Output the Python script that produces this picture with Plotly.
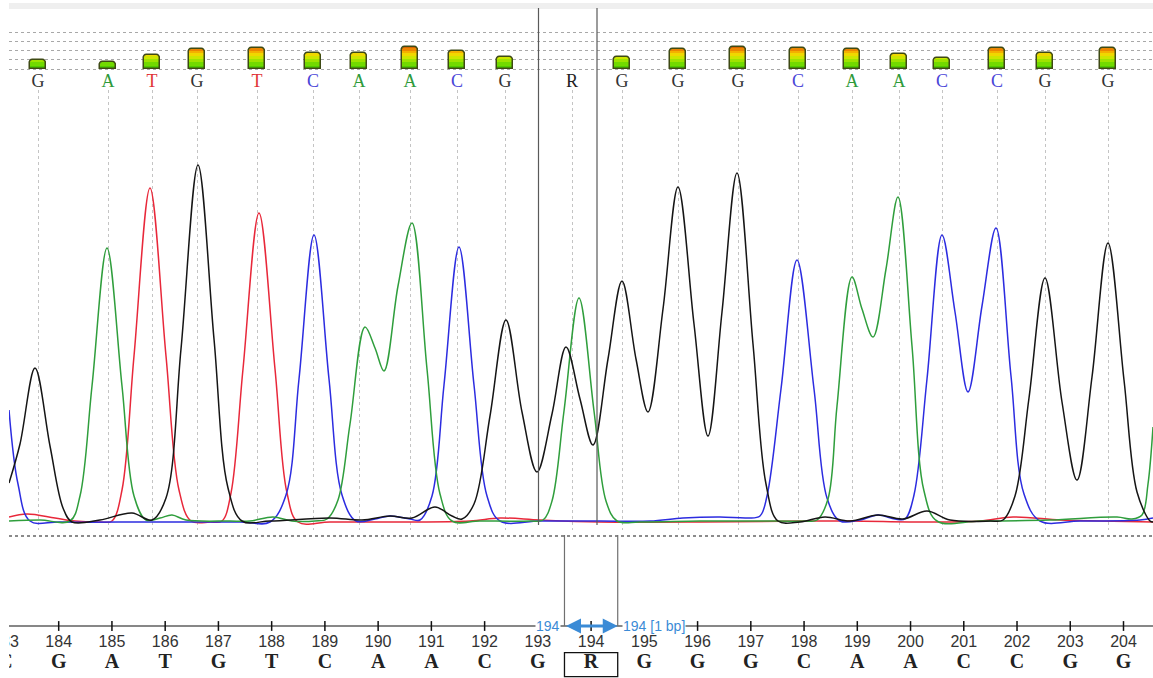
import plotly.graph_objects as go

# ---- base calls shown in the trace window ----
call_scan = [38, 108, 152, 197, 257, 313, 359, 410, 457, 505, 572,
             622, 678, 738, 798, 852, 899, 942, 997, 1045, 1108]
call_base = list("GATGTCAACGRGGGCAACCGG")
call_qv = [10, 8, 15, 22, 23, 18, 17, 24, 20, 13, 0,
           13, 22, 24, 23, 22, 16, 12, 23, 17, 23]

# ---- sequence ruler ----
ruler_pos = list(range(183, 205))
ruler_base = list("CGATGTCAACGRGGGCAACCGG")
selected_pos = 194

# ---- trace channels (scan, signal) ----
g_scan = [9, 20, 35, 50, 63, 72, 100, 132, 152, 166, 181, 198, 214, 228, 242, 270, 330,
          362, 390, 412, 435, 452, 462, 474, 490, 506, 522, 537, 552, 566, 580, 593, 608,
          622, 636, 648, 663, 678, 694, 708, 722, 737, 753, 766, 778, 800, 825, 850, 878,
          903, 927, 950, 990, 1003, 1015, 1029, 1045, 1062, 1077, 1092, 1108, 1124, 1137,
          1150, 1153]
g_signal = [41, 80, 156, 78, 16, 2, 4, 11, 4, 26, 175, 359, 185, 36, 3, 3, 6,
            4, 8, 6, 17, 8, 5, 20, 108, 204, 112, 52, 110, 177, 125, 79, 165,
            243, 165, 112, 215, 337, 200, 88, 212, 351, 180, 40, 3, 2, 7, 3, 9,
            5, 13, 4, 3, 4, 28, 126, 246, 122, 44, 147, 281, 144, 32, 3, 2]

a_scan = [9, 40, 70, 80, 92, 107, 122, 134, 146, 160, 172, 186, 230, 250, 273, 292, 315,
          327, 338, 350, 365, 375, 384, 398, 412, 427, 440, 452, 480, 530, 543, 552, 564,
          579, 594, 606, 617, 640, 700, 760, 805, 817, 828, 837, 852, 862, 873, 886, 898,
          912, 924, 937, 980, 1050, 1117, 1132, 1142, 1148, 1153]
a_signal = [3, 4, 3, 28, 138, 276, 138, 28, 4, 6, 9, 4, 3, 3, 7, 3, 3,
            5, 24, 100, 197, 176, 153, 238, 301, 155, 30, 3, 3, 3, 4, 23, 113,
            226, 113, 23, 3, 2, 3, 3, 3, 4, 25, 118, 247, 215, 187, 255, 327,
            178, 33, 3, 3, 4, 7, 5, 9, 40, 97]

t_scan = [9, 27, 55, 75, 100, 112, 122, 134, 150, 166, 179, 191, 210, 222, 231, 243, 259,
          275, 287, 298, 330, 400, 470, 500, 540, 600, 700, 800, 850, 930, 980, 1013, 1060,
          1100, 1153]
t_signal = [7, 10, 6, 3, 2, 3, 34, 168, 336, 168, 34, 3, 2, 3, 31, 155, 311,
            155, 31, 2, 2, 2, 3, 6, 4, 2, 2, 3, 3, 2, 3, 7, 4,
            3, 2]

c_scan = [9, 18, 30, 60, 150, 240, 270, 286, 299, 314, 329, 342, 356, 375, 390, 410, 420,
          432, 444, 459, 474, 487, 500, 540, 600, 650, 683, 720, 748, 760, 767, 781, 797,
          814, 827, 840, 860, 878, 895, 905, 914, 927, 942, 955, 968, 982, 996, 1011, 1024,
          1040, 1080, 1140, 1153]
c_signal = [114, 40, 3, 2, 2, 2, 2, 29, 145, 289, 145, 29, 3, 5, 8, 5, 4,
            28, 139, 277, 139, 28, 3, 3, 3, 3, 6, 7, 6, 8, 28, 135, 264,
            135, 26, 3, 4, 9, 5, 5, 29, 145, 289, 212, 132, 218, 296, 148, 30,
            3, 3, 4, 6]

channel_color = {"G": "#151515", "A": "#2f9e3c", "T": "#e8283a", "C": "#2c2ce0"}
label_color = {"G": "#333333", "A": "#2f9a3a", "T": "#e03236", "C": "#4a46d8", "R": "#222222"}
SERIF = "Liberation Serif, Times New Roman, serif"
SANS = "Arial, Liberation Sans, sans-serif"

H = 678.0


def py(p):
    """pixel row (from top) -> paper fraction"""
    return 1 - p / H


fig = go.Figure()

# ---- chromatogram traces ----
for scan, sig, base in [(t_scan, t_signal, "T"), (c_scan, c_signal, "C"),
                        (a_scan, a_signal, "A"), (g_scan, g_signal, "G")]:
    fig.add_trace(go.Scatter(
        x=scan, y=sig, mode="lines", xaxis="x", yaxis="y",
        line=dict(color=channel_color[base], width=1.5, shape="spline", smoothing=1.0),
        hoverinfo="skip"))

# ---- quality bars: layered bands give a green->orange gradient ----
bands = [(999, "#d66400"), (23, "#ec8600"), (20, "#f4b000"), (17, "#f0d800"),
         (14, "#cde600"), (11, "#9fe300"), (8, "#72da00"), (4, "#50cc00")]
for top, col in bands:
    fig.add_trace(go.Bar(
        x=call_scan, y=[min(q, top) if q > 0 else None for q in call_qv],
        xaxis="x3", yaxis="y2", width=16, marker=dict(color=col, line=dict(width=0),
                                                       cornerradius=3),
        hoverinfo="skip"))
fig.add_trace(go.Bar(
    x=call_scan, y=[q if q > 0 else None for q in call_qv],
    xaxis="x3", yaxis="y2", width=16,
    marker=dict(color="rgba(0,0,0,0)", line=dict(color="#3e4a14", width=1.5), cornerradius=4),
    hoverinfo="skip"))

# ---- base call letters above the traces ----
fig.add_trace(go.Scatter(
    x=call_scan, y=[0.5] * len(call_scan), mode="text", text=call_base,
    xaxis="x3", yaxis="y3",
    textfont=dict(family=SERIF, size=18, color=[label_color[b] for b in call_base]),
    hoverinfo="skip"))

# ---- ruler ----
RULER_Y, NUM_Y, BASE_Y, SEL_TOP = 52, 35, 15, 143
fig.add_trace(go.Scatter(
    x=ruler_pos, y=[RULER_Y] * len(ruler_pos), mode="markers", xaxis="x2", yaxis="y4",
    marker=dict(symbol="line-ns-open", size=7, color="#111111",
                line=dict(color="#111111", width=1.5)),
    hoverinfo="skip"))
fig.add_trace(go.Scatter(
    x=ruler_pos, y=[NUM_Y] * len(ruler_pos), mode="text", text=[str(p) for p in ruler_pos],
    xaxis="x2", yaxis="y4",
    textfont=dict(family=SANS, size=16, color="#333333"),
    hoverinfo="skip"))
fig.add_trace(go.Scatter(
    x=ruler_pos, y=[BASE_Y] * len(ruler_pos), mode="text", text=ruler_base,
    xaxis="x2", yaxis="y4",
    textfont=dict(family=SERIF, size=20, color="#222222", weight="bold"),
    hoverinfo="skip"))

# selection boundaries
sel_i = call_base.index("R")
sel_left = (call_scan[sel_i - 1] + call_scan[sel_i]) / 2
sel_right = (call_scan[sel_i] + call_scan[sel_i + 1]) / 2

shapes = [
    # grey strip on top
    dict(type="rect", xref="paper", yref="paper", x0=0, x1=1, y0=py(9), y1=py(3),
         fillcolor="#efefef", line=dict(width=0), layer="below"),
    # dotted border under the trace panel
    dict(type="line", xref="paper", yref="paper", x0=0, x1=1, y0=py(536), y1=py(536),
         line=dict(color="#666666", width=1.5, dash="dot")),
    # ruler line
    dict(type="line", xref="paper", yref="y4", x0=0, x1=1, y0=RULER_Y, y1=RULER_Y,
         line=dict(color="#111111", width=1.2)),
    # selection box around the ambiguous base
    dict(type="rect", xref="x2", yref="y4", x0=selected_pos - 0.5, x1=selected_pos + 0.5,
         y0=1.3, y1=25.3, line=dict(color="#111111", width=1.3)),
]
for xv in (sel_left, sel_right):
    shapes.append(dict(type="line", xref="x", yref="paper", x0=xv, x1=xv,
                       y0=py(525), y1=py(8), line=dict(color="#5a5a5a", width=1.2)))
for xv in (selected_pos - 0.5, selected_pos + 0.5):
    shapes.append(dict(type="line", xref="x2", yref="y4", x0=xv, x1=xv,
                       y0=RULER_Y, y1=SEL_TOP, line=dict(color="#707070", width=1.2)))

blue = "#3b8bd6"
annotations = [
    dict(x=selected_pos + 0.5, y=RULER_Y, xref="x2", yref="y4",
         ax=selected_pos - 0.5, ay=RULER_Y, axref="x2", ayref="y4",
         showarrow=True, arrowhead=2, startarrowhead=2, arrowside="end+start",
         arrowwidth=3, arrowsize=1, startarrowsize=1, arrowcolor=blue, text=""),
    dict(x=selected_pos - 0.5, y=RULER_Y, xref="x2", yref="y4", text=str(selected_pos),
         showarrow=False, xanchor="right", yanchor="middle", xshift=-3,
         font=dict(family=SANS, size=14, color=blue), bgcolor="white", borderpad=0),
    dict(x=selected_pos + 0.5, y=RULER_Y, xref="x2", yref="y4",
         text=f"{selected_pos} [1 bp]",
         showarrow=False, xanchor="left", yanchor="middle", xshift=4,
         font=dict(family=SANS, size=14, color=blue), bgcolor="white", borderpad=0),
]

ruler_px0, ruler_px_per_base = 58.7, 53.24
fig.update_layout(
    width=1153, height=678,
    margin=dict(l=9, r=0, t=0, b=0),
    paper_bgcolor="white", plot_bgcolor="white",
    showlegend=False, barmode="overlay", bargap=0,
    shapes=shapes, annotations=annotations,
    xaxis=dict(domain=[0, 1], range=[9, 1153], anchor="y", tickvals=call_scan,
               showticklabels=False, ticks="", showgrid=True, gridcolor="#c4c4c4",
               griddash="dot", gridwidth=1, zeroline=False, showline=False),
    yaxis=dict(domain=[py(536), py(90)], range=[-12, 434], visible=False),
    xaxis3=dict(domain=[0, 1], matches="x", anchor="y2", visible=False),
    yaxis2=dict(domain=[py(71), py(25)], range=[-1.83, 47.6], anchor="x3",
                showgrid=True, tick0=0, dtick=10, gridcolor="#a8a8a8", griddash="dot",
                showticklabels=False, ticks="", zeroline=False, showline=False),
    yaxis3=dict(domain=[py(90), py(74)], range=[0, 1], anchor="x3", visible=False),
    xaxis2=dict(domain=[0, 1],
                range=[184 + (9 - ruler_px0) / ruler_px_per_base,
                       184 + (1153 - ruler_px0) / ruler_px_per_base],
                anchor="y4", visible=False),
    yaxis4=dict(domain=[0, py(530)], range=[0, 148], anchor="x2", visible=False),
)

fig.write_html("out.html")
